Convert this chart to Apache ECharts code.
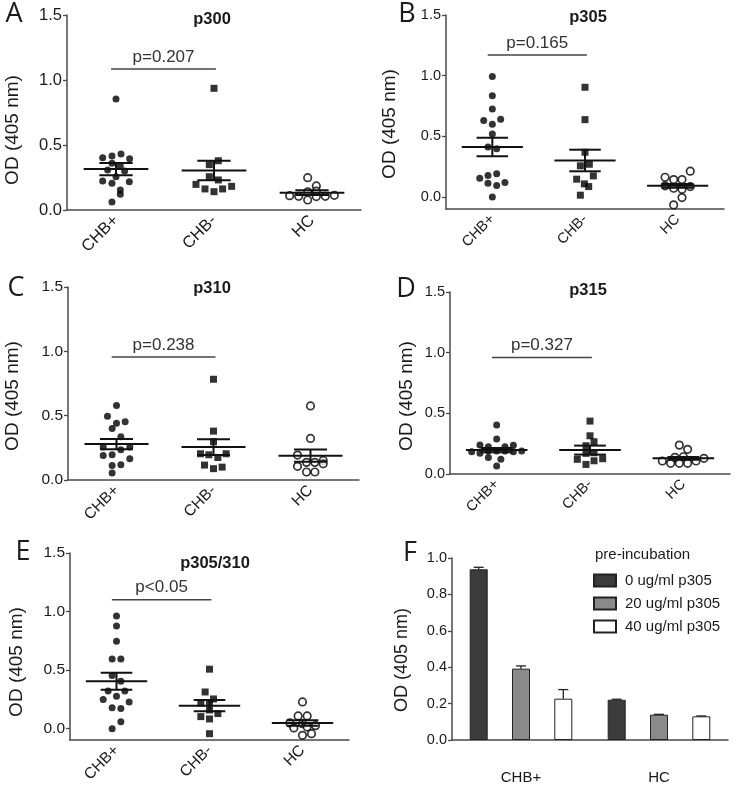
<!DOCTYPE html>
<html>
<head>
<meta charset="utf-8">
<script src="https://cdn.jsdelivr.net/npm/echarts@6/dist/echarts.min.js"></script>
<style>
    html, body { margin: 0; padding: 0; background: #fff; }
    #chart { width: 735px; height: 789px; }
</style>
</head>
<body>
<div id="chart"></div>
<script>
// groups on the x axis of the dot plots
var groups = ['CHB+', 'CHB-', 'HC']

// each point is [OD, jitter] - jitter is the sideways spread in category units
// A  p300
var aPos = [[0.854, 0], [0.402, -0.136], [0.415, -0.041], [0.431, 0.051], [0.395, 0.139], [0.359, -0.041], [0.338, 0.044], [0.308, -0.085], [0.300, 0.088], [0.256, 0], [0.223, -0.136], [0.205, -0.041], [0.218, 0.136], [0.154, 0.044], [0.121, 0.044], [0.062, -0.041]]
var aNeg = [[0.936, 0], [0.379, 0.044], [0.349, -0.048], [0.256, -0.048], [0.231, 0.044], [0.197, -0.184], [0.162, -0.092], [0.141, 0], [0.162, 0.088], [0.182, 0.18]]
var aHc = [[0.249, -0.044], [0.185, 0.044], [0.140, -0.044], [0.145, 0.044], [0.110, -0.228], [0.105, -0.136], [0.077, -0.044], [0.103, 0.044], [0.105, 0.136], [0.113, 0.228]]
var aMean = [0.315, 0.303, 0.133]
var aSem = [0.047, 0.075, 0.018]

// B  p305
var bPos = [[0.992, 0], [0.833, 0], [0.725, 0], [0.629, -0.093], [0.640, 0.09], [0.599, 0], [0.519, 0], [0.412, -0.047], [0.396, 0.047], [0.154, -0.136], [0.176, -0.047], [0.190, 0.047], [0.113, -0.047], [0.093, 0.047], [0.118, 0.136], [0.000, 0]]
var bNeg = [[0.904, 0], [0.637, 0], [0.368, 0], [0.256, -0.05], [0.269, 0.047], [0.173, 0.09], [0.146, -0.09], [0.107, -0.007], [0.085, 0.04], [0.014, -0.05]]
var bHc = [[0.212, 0.136], [0.162, -0.136], [0.143, -0.043], [0.143, 0.047], [0.091, -0.136], [0.071, -0.043], [0.063, 0.047], [0.085, 0.136], [-0.006, 0.047], [-0.066, -0.043]]
var bMean = [0.412, 0.300, 0.091]
var bSem = [0.076, 0.089, 0.015]

// C  p310
var cPos = [[0.579, 0], [0.496, -0.093], [0.442, 0], [0.452, 0.089], [0.400, -0.045], [0.336, 0.045], [0.256, -0.137], [0.235, 0.045], [0.256, 0.137], [0.191, -0.137], [0.196, -0.045], [0.165, 0.137], [0.113, -0.045], [0.119, 0.045], [0.054, -0.045]]
var cNeg = [[0.783, 0], [0.380, 0], [0.297, 0], [0.204, -0.134], [0.196, -0.048], [0.175, 0.045], [0.204, 0.13], [0.116, -0.093], [0.088, 0], [0.100, 0.089]]
var cHc = [[0.576, 0], [0.323, 0], [0.194, -0.134], [0.106, -0.134], [0.137, -0.041], [0.137, 0.045], [0.152, 0.131], [0.126, 0.131], [0.062, -0.041], [0.062, 0.045]]
var cMean = [0.279, 0.256, 0.189]
var cSem = [0.040, 0.061, 0.048]

// D  p315
var dPos = [[0.403, 0], [0.288, 0], [0.238, -0.179], [0.225, -0.089], [0.225, 0.089], [0.236, 0.179], [0.184, -0.268], [0.170, -0.179], [0.190, -0.089], [0.190, 0], [0.190, 0.089], [0.184, 0.179], [0.190, 0.268], [0.137, -0.089], [0.121, 0.045], [0.066, 0]]
var dNeg = [[0.436, 0], [0.315, 0], [0.266, 0.043], [0.233, -0.043], [0.170, -0.043], [0.175, 0.043], [0.121, -0.136], [0.109, 0.043], [0.126, 0.136], [0.079, -0.043]]
var dHc = [[0.238, -0.043], [0.203, 0.046], [0.129, 0.221], [0.107, -0.225], [0.088, -0.136], [0.088, -0.043], [0.088, 0.046], [0.107, 0.136], [0.137, -0.09], [0.142, 0]]
var dMean = [0.197, 0.197, 0.129]
var dSem = [0.017, 0.037, 0.012]

// E  p305/310
var ePos = [[0.962, 0], [0.876, 0], [0.745, 0], [0.594, -0.047], [0.594, 0.047], [0.451, -0.047], [0.403, 0.047], [0.320, -0.09], [0.320, 0.09], [0.246, -0.143], [0.274, 0], [0.226, 0.136], [0.177, -0.047], [0.169, 0.047], [0.057, 0.047], [-0.003, -0.047]]
var eNeg = [[0.506, 0], [0.311, -0.047], [0.251, 0.043], [0.217, -0.093], [0.217, 0], [0.157, 0], [0.126, 0.09], [0.100, -0.093], [0.080, 0], [-0.046, 0]]
var eHc = [[0.226, 0], [0.106, -0.047], [0.106, 0.05], [0.046, -0.136], [0.040, 0], [0.023, 0.14], [0.011, 0.05], [0.003, -0.093], [-0.060, 0], [-0.046, 0.097]]
var eMean = [0.403, 0.194, 0.046]
var eSem = [0.072, 0.049, 0.024]

// p values CHB+ vs CHB-
var pText = ['p=0.207', 'p=0.165', 'p=0.238', 'p=0.327', 'p<0.05']
var pY = [1.085, 1.17, 0.955, 0.96, 1.10]

// F  pre-incubation
var fGroups = ['CHB+', 'HC']
var fDose = ['0 ug/ml p305', '20 ug/ml p305', '40 ug/ml p305']
var f0 = [0.938, 0.221]
var f0Err = [0.011, 0.003]
var f20 = [0.392, 0.139]
var f20Err = [0.015, 0.002]
var f40 = [0.227, 0.130]
var f40Err = [0.050, 0.002]

var FONT = '"Liberation Sans", Arial, sans-serif'
var AXIS = '#4a4a4a'
var TXT = '#1a1a1a'

var panels = [
    {letter: 'A', title: 'p300', pts: [aPos, aNeg, aHc], mean: aMean, sem: aSem, grid: {left: 67, top: 15, width: 294, height: 195}, yMin: 0, fs: 16.5, letterAt: [14, 14], titleAt: [212, 19], nameAt: [13, 130]},
    {letter: 'B', title: 'p305', pts: [bPos, bNeg, bHc], mean: bMean, sem: bSem, grid: {left: 446, top: 15, width: 278, height: 194}, yMin: -0.1, fs: 14.5, letterAt: [407, 14], titleAt: [588, 17], nameAt: [390, 124]},
    {letter: 'C', title: 'p310', pts: [cPos, cNeg, cHc], mean: cMean, sem: cSem, grid: {left: 68, top: 287, width: 291, height: 193}, yMin: 0, fs: 15.5, letterAt: [16, 288], titleAt: [212, 288], nameAt: [13, 396]},
    {letter: 'D', title: 'p315', pts: [dPos, dNeg, dHc], mean: dMean, sem: dSem, grid: {left: 450, top: 292, width: 280, height: 182}, yMin: 0, fs: 14.5, letterAt: [406, 289], titleAt: [588, 290], nameAt: [407, 396]},
    {letter: 'E', title: 'p305/310', pts: [ePos, eNeg, eHc], mean: eMean, sem: eSem, grid: {left: 70, top: 553, width: 279, height: 187}, yMin: -0.1, fs: 15.5, letterAt: [23, 552], titleAt: [215, 563], nameAt: [17, 662]}
]

var grids = [], xAxes = [], yAxes = [], series = [], graphics = []

function txt(x, y, s, font, rot) {
    return {
        type: 'text', x: x, y: y, rotation: rot || 0, silent: true,
        style: {text: s, font: font, fill: TXT, align: 'center', verticalAlign: 'middle', textAlign: 'center', textVerticalAlign: 'middle'}
    }
}

panels.forEach(function (p, i) {
    grids.push(p.grid)
    var ticks = [0, 0.5, 1, 1.5]
    //分类轴 (labels + ticks)
    xAxes.push({
        gridIndex: i, type: 'category', data: groups, boundaryGap: true,
        axisLine: {onZero: false, lineStyle: {color: AXIS, width: 1.5}},
        axisTick: {alignWithLabel: true, length: 5, lineStyle: {color: AXIS, width: 1.3}},
        axisLabel: {rotate: 45, margin: 8, fontSize: p.fs, fontFamily: FONT, color: TXT}
    })
    //数值轴 for the dots
    xAxes.push({gridIndex: i, type: 'value', min: -0.5, max: 2.5, show: false})
    var y = {
        gridIndex: i, type: 'value', min: p.yMin, max: 1.5,
        axisLine: {show: true, onZero: false, lineStyle: {color: AXIS, width: 1.5}},
        axisTick: {show: true, length: 4, lineStyle: {color: AXIS, width: 1.3}},
        axisLabel: {margin: 5, fontSize: p.fs, fontFamily: FONT, color: TXT, formatter: function (v) { return v.toFixed(1) }},
        splitLine: {show: false}
    }
    if (p.yMin < 0) {
        y.axisLabel.customValues = ticks
        y.axisTick.customValues = ticks
    } else {
        y.interval = 0.5
    }
    yAxes.push(y)

    //散点
    var syms = ['circle', 'rect', 'circle']
    p.pts.forEach(function (pts, g) {
        series.push({
            type: 'scatter', xAxisIndex: 2 * i + 1, yAxisIndex: i, silent: true,
            symbol: syms[g], symbolSize: g == 2 ? 7.5 : 7,
            itemStyle: g == 2 ? {color: '#fff', borderColor: '#000', borderWidth: 1.7} : {color: '#000'},
            data: pts.map(function (d) { return [g + d[1], d[0]] }),
            z: 2
        })
    })

    //均值 ± SEM
    series.push({
        type: 'custom', xAxisIndex: 2 * i + 1, yAxisIndex: i, silent: true, z: 3,
        encode: {x: 0, y: 1},
        data: p.mean.map(function (m, g) { return [g, m, p.sem[g]] }),
        renderItem: function (params, api) {
            var g = api.value(0), m = api.value(1), s = api.value(2)
            var st = {stroke: '#111', lineWidth: 2}
            function seg(x1, y1, x2, y2) {
                var a = api.coord([x1, y1]), b = api.coord([x2, y2])
                return {type: 'line', shape: {x1: a[0], y1: a[1], x2: b[0], y2: b[1]}, style: st}
            }
            return {
                type: 'group', children: [
                    seg(g - 0.33, m, g + 0.33, m),
                    seg(g, m - s, g, m + s),
                    seg(g - 0.17, m + s, g + 0.17, m + s),
                    seg(g - 0.17, m - s, g + 0.17, m - s)
                ]
            }
        }
    })

    //p值
    series.push({
        type: 'custom', xAxisIndex: 2 * i + 1, yAxisIndex: i, silent: true, z: 3,
        encode: {x: 0, y: 1},
        data: [[0.5, pY[i]]],
        renderItem: function (params, api) {
            var yv = api.value(1)
            var a = api.coord([-0.05, yv]), b = api.coord([1.02, yv])
            return {
                type: 'group', children: [
                    {type: 'line', shape: {x1: a[0], y1: a[1], x2: b[0], y2: b[1]}, style: {stroke: '#444', lineWidth: 1.5}},
                    {type: 'text', x: (a[0] + b[0]) / 2, y: a[1] - 12, style: {text: pText[i], font: '17px ' + FONT, fill: '#333', align: 'center', verticalAlign: 'middle', textAlign: 'center', textVerticalAlign: 'middle'}}
                ]
            }
        }
    })

    graphics.push(txt(p.letterAt[0], p.letterAt[1], p.letter, '27px "Open Sans", sans-serif'))
    graphics.push(txt(p.titleAt[0], p.titleAt[1], p.title, 'bold 16.5px ' + FONT))
    graphics.push(txt(p.nameAt[0], p.nameAt[1], 'OD (405 nm)', '19px ' + FONT, Math.PI / 2))
})

// F 柱状图
grids.push({left: 452, top: 558, width: 276, height: 182})
xAxes.push({
    gridIndex: 5, type: 'category', data: fGroups,
    axisLine: {lineStyle: {color: AXIS, width: 1.5}},
    axisTick: {length: 5, lineStyle: {color: AXIS, width: 1.3}},
    axisLabel: {margin: 30, fontSize: 15, fontFamily: FONT, color: TXT}
})
yAxes.push({
    gridIndex: 5, type: 'value', min: 0, max: 1, interval: 0.2,
    axisLine: {show: true, lineStyle: {color: AXIS, width: 1.5}},
    axisTick: {show: true, length: 4, lineStyle: {color: AXIS, width: 1.3}},
    axisLabel: {margin: 5, fontSize: 14.5, fontFamily: FONT, color: TXT, formatter: function (v) { return v.toFixed(1) }},
    splitLine: {show: false}
})
var fVals = [f0, f20, f40]
var fErrs = [f0Err, f20Err, f40Err]
var fColors = ['#3b3b3b', '#8a8a8a', '#ffffff']
var BAR_W = 18, BAR_GAP = 1.35
fVals.forEach(function (v, k) {
    series.push({
        type: 'bar', name: fDose[k], xAxisIndex: 10, yAxisIndex: 5, silent: true,
        barWidth: BAR_W, barGap: (BAR_GAP * 100) + '%',
        itemStyle: {color: fColors[k], borderColor: '#222', borderWidth: 1},
        data: v
    })
})
//误差线
var errData = []
fVals.forEach(function (v, k) {
    v.forEach(function (val, c) { errData.push([c, val, fErrs[k][c], k]) })
})
series.push({
    type: 'custom', xAxisIndex: 10, yAxisIndex: 5, silent: true, z: 3,
    encode: {x: 0, y: 1},
    data: errData,
    renderItem: function (params, api) {
        var c = api.value(0), val = api.value(1), e = api.value(2), k = api.value(3)
        var base = api.coord([c, val]), top = api.coord([c, val + e])
        var x = base[0] + (k - 1) * BAR_W * (1 + BAR_GAP)
        var st = {stroke: '#222', lineWidth: 1.3}
        return {
            type: 'group', children: [
                {type: 'line', shape: {x1: x, y1: base[1], x2: x, y2: top[1]}, style: st},
                {type: 'line', shape: {x1: x - 5, y1: top[1], x2: x + 5, y2: top[1]}, style: st}
            ]
        }
    }
})

graphics.push(txt(410, 553, 'F', '27px "Open Sans", sans-serif'))
graphics.push(txt(402, 660, 'OD (405 nm)', '18px ' + FONT, Math.PI / 2))
graphics.push({type: 'text', x: 595, y: 555, silent: true, style: {text: 'pre-incubation', font: '15px ' + FONT, fill: TXT, verticalAlign: 'middle', textVerticalAlign: 'middle'}})

var myChart = echarts.init(document.getElementById('chart'), null, {renderer: 'canvas'})
myChart.setOption({
    animation: false,
    backgroundColor: '#fff',
    grid: grids,
    xAxis: xAxes,
    yAxis: yAxes,
    legend: {
        data: fDose, orient: 'vertical', left: 588, top: 568,
        icon: 'rect', itemWidth: 22, itemHeight: 12, itemGap: 8,
        selectedMode: false,
        textStyle: {fontSize: 15, fontFamily: FONT, color: TXT, padding: [0, 0, 0, 4]}
    },
    graphic: graphics,
    series: series
})
</script>
</body>
</html>
